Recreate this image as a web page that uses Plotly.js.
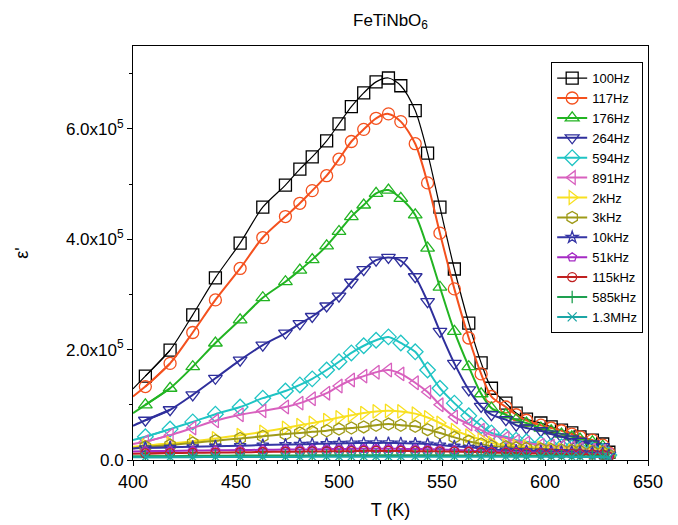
<!DOCTYPE html>
<html><head><meta charset="utf-8">
<script src="https://cdn.plot.ly/plotly-3.0.1.min.js"></script>
<style>html,body{margin:0;padding:0;background:#fff}#chart{width:678px;height:525px}</style>
</head><body><div id="chart"></div>
<script>
// Temperature (K)
const temperature = [406,418,429,440,452,463,474,481,487,494,500,506,512,518,524,530,537,543,549,556,563,569,574,581,586,591,598,603,608,613,617,623,628,631];

// Real permittivity epsilon' per frequency
const eps100Hz = [152000,199000,263000,330000,393000,458000,498000,527000,549000,578000,609000,640000,665000,685000,692000,678000,633000,556000,458000,346000,248000,176000,130000,103000,85000,74000,67000,60000,54000,49000,42000,36000,29000,14000];
const eps117Hz = [133000,175000,231000,290000,347000,403000,441000,465000,488000,515000,545000,577000,599000,619000,627000,613000,573000,502000,411000,310000,221000,156000,115000,96000,82000,72000,63000,58000,53000,47000,42000,36000,27000,13000];
const eps176Hz = [100000,130000,169000,212000,254000,294000,323000,344000,363000,388000,414000,441000,462000,483000,489000,474000,444000,384000,313000,233000,169000,120000,94000,82000,73000,67000,58000,53000,47000,42000,38000,33000,25000,11000];
const eps264Hz = [72000,91000,118000,148000,181000,208000,230000,247000,260000,279000,297000,322000,345000,362000,367000,361000,332000,287000,233000,175000,127000,97000,82000,73000,63000,58000,53000,47000,42000,38000,34000,29000,24000,9000];
const eps594Hz = [42000,56000,69000,83000,96000,112000,125000,136000,147000,163000,178000,194000,207000,217000,223000,212000,196000,163000,130000,103000,80000,62000,49000,42000,36000,33000,29000,25000,24000,22000,20000,18000,16000,9000];
const eps891Hz = [33000,45000,58000,71000,82000,89000,96000,103000,111000,121000,134000,145000,152000,159000,163000,156000,140000,123000,100000,78000,65000,54000,45000,40000,34000,31000,27000,25000,24000,22000,20000,18000,16000,9000];
const eps2kHz = [26000,30000,34000,39000,45000,51000,58000,63000,67000,72000,77000,81000,85000,88000,89000,88000,84000,77000,67000,54000,44000,37000,31000,27000,25000,24000,22000,20000,18000,17000,16000,15000,14000,9000];
const eps3kHz = [24000,27000,31000,35000,39000,43000,47000,49000,51000,53000,56000,58000,60000,63000,65000,63000,61000,55000,49000,41000,34000,29000,25000,24000,22000,21000,20000,19000,18000,17000,16000,15000,14000,9000];
const eps10kHz = [22000,23000,24000,25000,26000,27000,28000,28500,29000,29500,30000,30500,31000,31000,31000,30500,30000,29000,27000,25000,23000,21000,19000,18000,17000,16500,16000,15500,15000,14500,14000,13000,12000,8000];
const eps51kHz = [16000,16500,17000,17500,18000,18500,19000,19000,19500,19500,20000,20000,20500,20500,20500,20000,20000,19500,19000,18000,17000,16000,15500,15000,14500,14000,13500,13000,12500,12000,11500,11000,10500,7000];
const eps115kHz = [12000,12500,13000,13500,14000,14500,15000,15000,15500,15500,16000,16000,16500,16500,16500,16500,16000,16000,15500,15000,14500,14000,13500,13000,12500,12000,12000,11500,11000,11000,10500,10000,9500,6000];
const eps585kHz = [7000,7000,7500,7500,8000,8000,8000,8000,8500,8500,8500,8500,8500,8500,8500,8500,8500,8500,8500,8500,8000,8000,8000,8000,8000,7500,7500,7500,7500,7000,7000,7000,7000,5000];
const eps1p3MHz = [5000,5000,5000,5500,5500,5500,5500,5500,6000,6000,6000,6000,6000,6000,6000,6000,6000,6000,6000,6000,6000,6000,6000,6000,6000,6000,6000,6000,6000,5500,5500,5500,5500,4000];

// Fitted-curve value at the left edge of the axis (T = 400 K)
const fitStartT = 400;
const fitStartValues = [129000,115000,85000,62000,36000,29000,24000,21000,21000,15500,11500,7000,5000];

const seriesNames = ['100Hz','117Hz','176Hz','264Hz','594Hz','891Hz','2kHz','3kHz','10kHz','51kHz','115kHz','585kHz','1.3MHz'];
const seriesColors = ['#000000','#F4511E','#22B422','#2F2F9C','#20C4C4','#D860BE','#F8E020','#9E9A18','#3535A5','#A52BC4','#C02020','#1EA050','#1CA6A6'];
const seriesSymbols = ['square-open','circle-open','triangle-up-open','triangle-down-open','diamond-open','triangle-left-open','triangle-right-open','hexagon-open','star-open','pentagon-open','circle-open','line-ns-open','x-thin-open'];
const yTickVals = [0, 200000, 400000, 600000];
const yTickText = ['0.0','2.0x10<sup>5</sup>','4.0x10<sup>5</sup>','6.0x10<sup>5</sup>'];

const series = [eps100Hz,eps117Hz,eps176Hz,eps264Hz,eps594Hz,eps891Hz,eps2kHz,eps3kHz,eps10kHz,eps51kHz,eps115kHz,eps585kHz,eps1p3MHz];

const lineWidth = i => (i === 0 ? 1.2 : 2);

// short fitted-line lead-ins from the axis to the first measured points
const leadIns = series.map((ys, i) => ({
  type: 'scatter', mode: 'lines',
  x: [fitStartT, temperature[0], temperature[1]],
  y: [fitStartValues[i], ys[0], ys[1]],
  line: {color: seriesColors[i], width: lineWidth(i), shape: 'spline', smoothing: 0.8},
  showlegend: false, hoverinfo: 'skip'
}));

const traces = series.map((ys, i) => ({
  type: 'scatter',
  mode: 'lines+markers',
  x: temperature,
  y: ys,
  name: seriesNames[i],
  line: {color: seriesColors[i], width: lineWidth(i), shape: 'spline', smoothing: 0.8},
  marker: {symbol: seriesSymbols[i], size: i >= 8 ? 9 : 12, color: seriesColors[i], line: {color: seriesColors[i], width: 1.3}}
}));

const font = {family: '"Liberation Sans", Arial, sans-serif', color: '#000'};

const layout = {
  width: 678, height: 525,
  margin: {l: 133, r: 30, t: 46, b: 65},
  paper_bgcolor: '#fff', plot_bgcolor: '#fff',
  font: Object.assign({size: 18}, font),
  title: {text: 'FeTiNbO<sub>6</sub>', font: Object.assign({size: 17}, font), x: 0.5, xref: 'paper', y: 0.962, yref: 'container', yanchor: 'middle'},
  showlegend: true,
  legend: {x: 0.812, y: 0.961, xanchor: 'left', yanchor: 'top', bgcolor: '#fff', bordercolor: '#000', borderwidth: 1, font: Object.assign({size: 13}, font), tracegroupgap: 0},
  xaxis: {
    range: [400, 650], tickmode: 'linear', tick0: 400, dtick: 50,
    ticks: 'outside', ticklen: 5, tickwidth: 1, tickcolor: '#000',
    minor: {dtick: 10, tick0: 400, ticks: 'outside', ticklen: 3, tickcolor: '#000'},
    showline: true, linecolor: '#000', linewidth: 1, mirror: true,
    showgrid: false, zeroline: false,
    tickfont: Object.assign({size: 18}, font),
    title: {text: 'T (K)', font: Object.assign({size: 18}, font), standoff: 12}
  },
  yaxis: {
    range: [0, 750000], tickmode: 'array', tickvals: yTickVals, ticktext: yTickText,
    ticks: 'outside', ticklen: 5, tickwidth: 1, tickcolor: '#000',
    minor: {dtick: 100000, tick0: 0, ticks: 'outside', ticklen: 3, tickcolor: '#000'},
    showline: true, linecolor: '#000', linewidth: 1, mirror: true,
    showgrid: false, zeroline: false,
    tickfont: Object.assign({size: 17}, font),
    title: {text: "ε'", font: Object.assign({size: 18}, font), standoff: 32}
  }
};

Plotly.newPlot('chart', leadIns.concat(traces), layout, {displayModeBar: false, staticPlot: true});
</script>
</body></html>
